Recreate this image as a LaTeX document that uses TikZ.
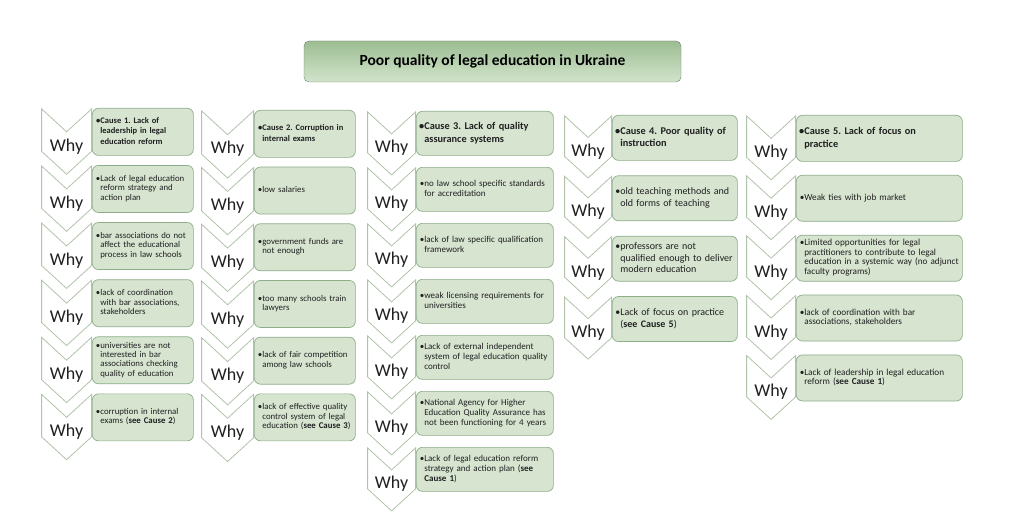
\documentclass[tikz,border=0pt]{standalone}
\usepackage{fontspec}
\setmainfont{Carlito}
\frenchspacing
\usetikzlibrary{shapes.symbols, positioning, calc}
\definecolor{box_fill}{HTML}{D6E4D0}
\definecolor{box_line}{HTML}{8DAE88}
\definecolor{chev_line}{HTML}{B2C3AC}
\definecolor{title_top}{HTML}{9CBD92}
\definecolor{title_bottom}{HTML}{D2E4CB}
\definecolor{title_line}{HTML}{6E806C}
\definecolor{text_dark}{HTML}{202020}
\newcommand\whyitem[1]{\makebox[6pt][r]{\textbullet}\begin{tabular}[t]{@{}l@{}}#1\end{tabular}}
\tikzset{
  why_font/.style = {font=\fontsize{18}{18}\selectfont},
  title_font/.style = {font=\fontsize{15.5}{17}\selectfont\bfseries},
  font_1/.style = {font=\fontsize{8.8}{9.4}\selectfont},
  font_3/.style = {font=\fontsize{9}{10}\selectfont},
  font_4/.style = {font=\fontsize{10}{11.8}\selectfont},
  font_5/.style = {font=\fontsize{9.2}{9.3}\selectfont}
}
\tikzset{
  title/.style = {title_font, draw=title_line, top color=title_top, bottom color=title_bottom,
    rounded corners=5pt, minimum width=377, minimum height=41},
  why/.style 2 args = {why_font, shape=signal, signal from=north, signal to=south,
    signal pointer angle=95, draw=chev_line, fill=white, line width=0.8pt,
    minimum width=#1, minimum height=#2, inner sep=0, text height=19pt, text depth=0pt,
    anchor=north east, text=text_dark},
  item/.style = {draw=box_line, fill=box_fill, line width=0.7pt, rounded corners=6pt,
    align=left, anchor=north west, inner xsep=2, inner ysep=2, text=text_dark},
  col_1/.style = {item, font_1, text width=97, minimum height=47},
  col_2/.style = {item, font_1, text width=97, minimum height=47},
  col_3/.style = {item, font_3, text width=133, minimum height=44},
  col_4/.style = {item, font_4, text width=121, minimum height=45},
  col_5/.style = {item, font_5, text width=162, minimum height=46},
  cause_1/.style = {font=\fontsize{8.5}{10.3}\selectfont\bfseries},
  cause_3/.style = {font=\fontsize{10.3}{12.6}\selectfont\bfseries}
}
\begin{document}
\begin{tikzpicture}[x=1pt, y=-1pt]
        \useasboundingbox[fill=white] (0,0) rectangle (1014,524);

        % Problem
        \node[title] at (492.5,61.5) (problem) {Poor quality of legal education in Ukraine};

        % Cause 1
        \node[col_1, cause_1] at (92,108) (c1_b1) {\whyitem{Cause 1. Lack of\\ leadership in legal\\ education reform}};
        \node[col_1, below=9.4pt of c1_b1] (c1_b2) {\whyitem{Lack of legal education\\ reform strategy and\\ action plan}};
        \node[col_1, below=9.4pt of c1_b2] (c1_b3) {\whyitem{bar associations do not\\ affect the educational\\ process in law schools}};
        \node[col_1, below=9.4pt of c1_b3] (c1_b4) {\whyitem{lack of coordination\\ with bar associations,\\ stakeholders}};
        \node[col_1, below=9.4pt of c1_b4] (c1_b5) {\whyitem{universities are not\\ interested in bar\\ associations checking\\ quality of education}};
        \node[col_1, below=9.4pt of c1_b5] (c1_b6) {\whyitem{corruption in internal\\ exams (\textbf{see Cause 2})}};

        % Cause 2
        \node[col_2, cause_1] at (254,110) (c2_b1) {\whyitem{Cause 2. Corruption in\\ internal exams}};
        \node[col_2, below=9pt of c2_b1] (c2_b2) {\whyitem{low salaries}};
        \node[col_2, below=9pt of c2_b2] (c2_b3) {\whyitem{government funds are\\ not enough}};
        \node[col_2, below=9pt of c2_b3] (c2_b4) {\whyitem{too many schools train\\ lawyers}};
        \node[col_2, below=9pt of c2_b4] (c2_b5) {\whyitem{lack of fair competition\\ among law schools}};
        \node[col_2, below=9pt of c2_b5] (c2_b6) {\whyitem{lack of effective quality\\ control system of legal\\ education (\textbf{see Cause 3})}};

        % Cause 3
        \node[col_3, cause_3] at (416,111) (c3_b1) {\whyitem{Cause 3. Lack of quality\\ assurance systems}};
        \node[col_3, below=11.3pt of c3_b1] (c3_b2) {\whyitem{no law school specific standards\\ for accreditation}};
        \node[col_3, below=11.3pt of c3_b2] (c3_b3) {\whyitem{lack of law specific qualification\\ framework}};
        \node[col_3, below=11.3pt of c3_b3] (c3_b4) {\whyitem{weak licensing requirements for\\ universities}};
        \node[col_3, below=11.3pt of c3_b4] (c3_b5) {\whyitem{Lack of external independent\\ system of legal education quality\\ control}};
        \node[col_3, below=11.3pt of c3_b5] (c3_b6) {\whyitem{National Agency for Higher\\ Education Quality Assurance has\\ not been functioning for 4 years}};
        \node[col_3, below=11.3pt of c3_b6] (c3_b7) {\whyitem{Lack of legal education reform\\ strategy and action plan (\textbf{see}\\ \textbf{Cause 1})}};

        % Cause 4
        \node[col_4, cause_3] at (612,115) (c4_b1) {\whyitem{Cause 4. Poor quality of\\ instruction}};
        \node[col_4, below=14.7pt of c4_b1] (c4_b2) {\whyitem{old teaching methods and\\ old forms of teaching}};
        \node[col_4, below=14.7pt of c4_b2] (c4_b3) {\whyitem{professors are not\\ qualified enough to deliver\\ modern education}};
        \node[col_4, below=14.7pt of c4_b3] (c4_b4) {\whyitem{Lack of focus on practice\\ (\textbf{see Cause 5})}};

        % Cause 5
        \node[col_5, cause_3] at (796,115) (c5_b1) {\whyitem{Cause 5. Lack of focus on\\ practice}};
        \node[col_5, below=13.2pt of c5_b1] (c5_b2) {\whyitem{Weak ties with job market}};
        \node[col_5, below=13.2pt of c5_b2] (c5_b3) {\whyitem{Limited opportunities for legal\\ practitioners to contribute to legal\\ education in a systemic way (no adjunct\\ faculty programs)}};
        \node[col_5, below=13.2pt of c5_b3] (c5_b4) {\whyitem{lack of coordination with bar\\ associations, stakeholders}};
        \node[col_5, below=13.2pt of c5_b4] (c5_b5) {\whyitem{Lack of leadership in legal education\\ reform (\textbf{see Cause 1})}};

        % Why chevrons
        \node[why={50}{50}] at (c1_b1.north west) (c1_w1) {Why};
        \node[why={50}{50}] at (c1_b2.north west) (c1_w2) {Why};
        \node[why={50}{50}] at (c1_b3.north west) (c1_w3) {Why};
        \node[why={50}{50}] at (c1_b4.north west) (c1_w4) {Why};
        \node[why={50}{50}] at (c1_b5.north west) (c1_w5) {Why};
        \node[why={50}{50}] at (c1_b6.north west) (c1_w6) {Why};

        \node[why={52}{50}] at (c2_b1.north west) (c2_w1) {Why};
        \node[why={52}{50}] at (c2_b2.north west) (c2_w2) {Why};
        \node[why={52}{50}] at (c2_b3.north west) (c2_w3) {Why};
        \node[why={52}{50}] at (c2_b4.north west) (c2_w4) {Why};
        \node[why={52}{50}] at (c2_b5.north west) (c2_w5) {Why};
        \node[why={52}{50}] at (c2_b6.north west) (c2_w6) {Why};

        \node[why={48}{45}] at (c3_b1.north west) (c3_w1) {Why};
        \node[why={48}{45}] at (c3_b2.north west) (c3_w2) {Why};
        \node[why={48}{45}] at (c3_b3.north west) (c3_w3) {Why};
        \node[why={48}{45}] at (c3_b4.north west) (c3_w4) {Why};
        \node[why={48}{45}] at (c3_b5.north west) (c3_w5) {Why};
        \node[why={48}{45}] at (c3_b6.north west) (c3_w6) {Why};
        \node[why={48}{45}] at (c3_b7.north west) (c3_w7) {Why};

        \node[why={47}{47}] at (c4_b1.north west) (c4_w1) {Why};
        \node[why={47}{47}] at (c4_b2.north west) (c4_w2) {Why};
        \node[why={47}{47}] at (c4_b3.north west) (c4_w3) {Why};
        \node[why={47}{47}] at (c4_b4.north west) (c4_w4) {Why};

        \node[why={49}{48}] at (c5_b1.north west) (c5_w1) {Why};
        \node[why={49}{48}] at (c5_b2.north west) (c5_w2) {Why};
        \node[why={49}{48}] at (c5_b3.north west) (c5_w3) {Why};
        \node[why={49}{48}] at (c5_b4.north west) (c5_w4) {Why};
        \node[why={49}{48}] at (c5_b5.north west) (c5_w5) {Why};
\end{tikzpicture}
\end{document}
